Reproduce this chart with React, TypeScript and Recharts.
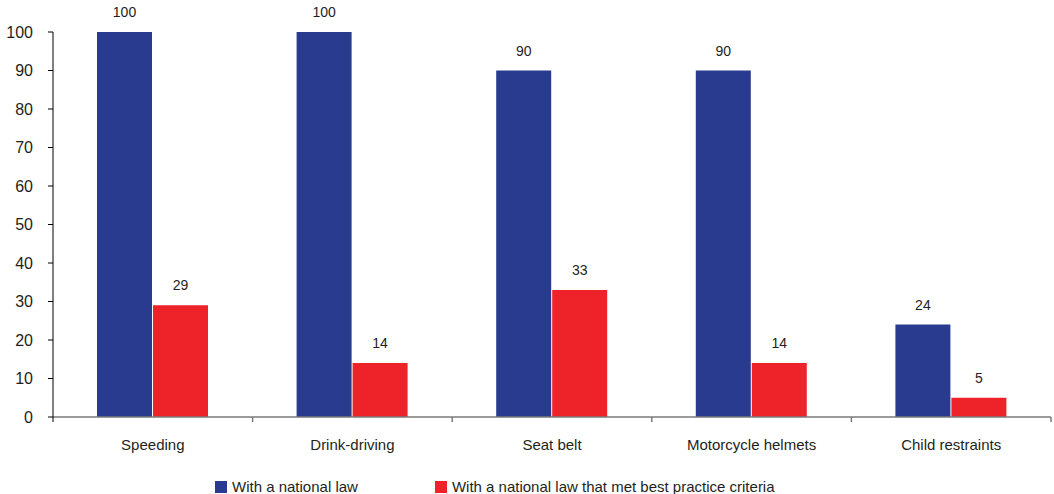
import { BarChart, Bar, XAxis, YAxis, Legend, LabelList } from 'recharts';

const categories = ['Speeding', 'Drink-driving', 'Seat belt', 'Motorcycle helmets', 'Child restraints'];
const nationalLaw = [100, 100, 90, 90, 24];
const bestPractice = [29, 14, 33, 14, 5];
const yTicks = [0, 10, 20, 30, 40, 50, 60, 70, 80, 90, 100];

const BLUE = '#283b8f';
const RED = '#ee2229';
const TEXT = '#231f20';
const FONT = '"Liberation Sans", Arial, sans-serif';

const data = categories.map((name, i) => ({
  name,
  national: nationalLaw[i],
  best: bestPractice[i],
}));

const W = 1054;
const H = 494;
const margin = { top: 32, right: 3, left: 0, bottom: 0 };
const yWidth = 53;
const band = (W - margin.left - margin.right - yWidth) / categories.length;

const XTick = (props: any) => {
  const { x, y, payload, index } = props;
  const last = index === categories.length - 1;
  return (
    <g>
      <line
        x1={x - band / 2}
        x2={x - band / 2}
        y1={y}
        y2={y + 5}
        stroke={index === 0 ? '#000' : '#7a7a7a'}
        strokeWidth={index === 0 ? 1 : 1.5}
      />
      {last && (
        <line x1={x + band / 2} x2={x + band / 2} y1={y} y2={y + 5} stroke="#7a7a7a" strokeWidth={1.5} />
      )}
      <text x={x} y={y + 33} textAnchor="middle" fill={TEXT} fontSize={15} fontFamily={FONT}>
        {payload.value}
      </text>
    </g>
  );
};

const LegendContent = () => (
  <div
    style={{
      height: 27,
      paddingLeft: 215,
      paddingTop: 12,
      boxSizing: 'border-box',
      display: 'flex',
      alignItems: 'center',
      fontFamily: FONT,
      fontSize: 15,
      color: TEXT,
      whiteSpace: 'nowrap',
    }}
  >
    <span style={{ display: 'inline-flex', alignItems: 'center', marginRight: 77 }}>
      <span style={{ width: 12, height: 12, background: BLUE, marginRight: 5 }} />
      With a national law
    </span>
    <span style={{ display: 'inline-flex', alignItems: 'center' }}>
      <span style={{ width: 12, height: 12, background: RED, marginRight: 5 }} />
      With a national law that met best practice criteria
    </span>
  </div>
);

export default function App() {
  return (
    <div style={{ position: 'absolute', left: 0, top: 0, background: '#fff' }}>
      <BarChart width={W} height={H} data={data} margin={margin} barSize={55} barGap={1}>
        <XAxis
          dataKey="name"
          height={50}
          tick={<XTick />}
          tickLine={false}
          tickSize={0}
          tickMargin={0}
          axisLine={{ stroke: '#7a7a7a', strokeWidth: 1.5 }}
          interval={0}
        />
        <YAxis
          width={yWidth}
          domain={[0, 100]}
          ticks={yTicks}
          interval={0}
          axisLine={{ stroke: '#000' }}
          tickLine={{ stroke: '#000' }}
          tickSize={5}
          tickMargin={15}
          tick={{ fill: TEXT, fontSize: 16, fontFamily: FONT }}
        />
        <Legend
          verticalAlign="bottom"
          content={<LegendContent />}
          wrapperStyle={{ left: 0, width: W, height: 27, bottom: 0 }}
        />
        <Bar dataKey="national" fill={BLUE} isAnimationActive={false}>
          <LabelList dataKey="national" position="top" offset={15} fill={TEXT} fontSize={14} fontFamily={FONT} />
        </Bar>
        <Bar dataKey="best" fill={RED} isAnimationActive={false}>
          <LabelList dataKey="best" position="top" offset={15} fill={TEXT} fontSize={14} fontFamily={FONT} />
        </Bar>
      </BarChart>
    </div>
  );
}
